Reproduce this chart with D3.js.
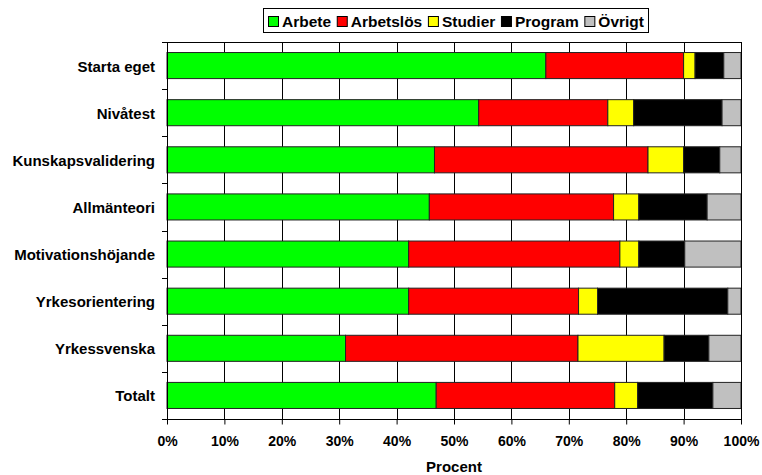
<!DOCTYPE html>
<html>
<head>
<meta charset="utf-8">
<script src="https://cdn.jsdelivr.net/npm/d3@7"></script>
<style>
  body { margin: 0; background: #fff; }
  text { font-family: "Liberation Sans", Arial, sans-serif; font-weight: bold; font-size: 14px; }
</style>
</head>
<body>
<svg width="762" height="475"></svg>
<script>
// categories, top to bottom
var categories = ["Starta eget", "Nivåtest", "Kunskapsvalidering", "Allmänteori",
  "Motivationshöjande", "Yrkesorientering", "Yrkessvenska", "Totalt"];

// series (percent)
var seriesNames = ["Arbete", "Arbetslös", "Studier", "Program", "Övrigt"];
var arbete    = [66.0, 54.3, 46.6, 45.7, 42.1, 42.1, 31.1, 46.9];
var arbetslos = [24.0, 22.5, 37.2, 32.1, 36.8, 29.6, 40.5, 31.1];
var studier   = [ 2.0,  4.5,  6.2,  4.4,  3.3,  3.3, 15.0,  4.0];
var program   = [ 5.0, 15.4,  6.3, 11.9,  8.0, 22.7,  7.8, 13.1];
var ovrigt    = [ 3.0,  3.3,  3.7,  5.9,  9.8,  2.3,  5.6,  4.9];

var xTicks = [0, 10, 20, 30, 40, 50, 60, 70, 80, 90, 100];
var colors = ["#00ff00", "#ff0000", "#ffff00", "#000000", "#c0c0c0"];

var rows = categories.map(function(c, i) {
  return { cat: c, "Arbete": arbete[i], "Arbetslös": arbetslos[i], "Studier": studier[i],
           "Program": program[i], "Övrigt": ovrigt[i] };
});

var svg = d3.select("svg");
var plotLeft = 167, plotRight = 741, plotTop = 42, plotBottom = 419;

var x = d3.scaleLinear().domain([0, 100]).range([plotLeft, plotRight]);
var y = d3.scaleBand().domain(categories).range([plotTop, plotBottom])
  .paddingInner(0.447).paddingOuter(0.2235);
var color = d3.scaleOrdinal().domain(seriesNames).range(colors);

// gridlines
svg.append("g").selectAll("line")
  .data(xTicks)
  .enter().append("line")
  .attr("x1", function(d) { return Math.round(x(d)) + 0.5; })
  .attr("x2", function(d) { return Math.round(x(d)) + 0.5; })
  .attr("y1", plotTop).attr("y2", plotBottom)
  .attr("stroke", "#000").attr("stroke-width", 1);

// stacked bars
var stacked = d3.stack().keys(seriesNames)(rows);
svg.append("g").selectAll("g")
  .data(stacked)
  .enter().append("g")
  .attr("fill", function(d) { return color(d.key); })
  .selectAll("rect")
  .data(function(d) { return d; })
  .enter().append("rect")
  .attr("x", function(d) { return x(d[0]); })
  .attr("width", function(d) { return x(d[1]) - x(d[0]); })
  .attr("y", function(d) { return y(d.data.cat); })
  .attr("height", y.bandwidth())
  .attr("stroke", "#222").attr("stroke-width", 1);

// plot frame
svg.append("rect")
  .attr("x", plotLeft + 0.5).attr("y", plotTop + 0.5)
  .attr("width", plotRight - plotLeft).attr("height", plotBottom - plotTop)
  .attr("fill", "none").attr("stroke", "#000");

// x axis
var xAxis = svg.append("g")
  .attr("transform", "translate(0," + (plotBottom + 0.5) + ")")
  .call(d3.axisBottom(x).tickValues(xTicks).tickSize(5).tickPadding(12)
    .tickFormat(function(d) { return d + "%"; }));
xAxis.select(".domain").remove();
xAxis.selectAll("text").attr("fill", "#000").style("font-size", "14px").style("font-family", null);

// y ticks at band boundaries
var bounds = d3.range(categories.length + 1).map(function(i) {
  return plotTop + i * (plotBottom - plotTop) / categories.length;
});
svg.append("g").selectAll("line")
  .data(bounds)
  .enter().append("line")
  .attr("x1", plotLeft - 5).attr("x2", plotLeft)
  .attr("y1", function(d) { return Math.round(d) + 0.5; })
  .attr("y2", function(d) { return Math.round(d) + 0.5; })
  .attr("stroke", "#000");

// category labels
svg.append("g").selectAll("text")
  .data(categories)
  .enter().append("text")
  .attr("x", 155)
  .attr("y", function(d) { return y(d) + y.bandwidth() / 2; })
  .attr("dy", "0.4em")
  .attr("text-anchor", "end")
  .style("font-size", "15px")
  .text(function(d) { return d; });

// axis title
svg.append("text")
  .attr("x", (plotLeft + plotRight) / 2).attr("y", 472)
  .attr("text-anchor", "middle")
  .style("font-size", "15px")
  .text("Procent");

// legend: spread items so the box spans the same width as the original
var legend = svg.append("g");
var boxL = 263, boxR = 648, boxT = 8, boxH = 24;
var items = legend.selectAll("g")
  .data(seriesNames)
  .enter().append("g");
var texts = items.append("text")
  .attr("y", 26.5)
  .style("font-size", "15.5px")
  .text(function(d) { return d; });
var widths = texts.nodes().map(function(n) { return n.getComputedTextLength(); });
var used = d3.sum(widths) + seriesNames.length * 13;
var gap = ((boxR - 5) - (boxL + 5) - used) / (seriesNames.length - 1);
var pos = boxL + 5;
items.each(function(d, i) {
  var g = d3.select(this);
  g.insert("rect", "text")
    .attr("x", pos + 0.5).attr("y", 16.5)
    .attr("width", 10).attr("height", 10)
    .attr("fill", color(d)).attr("stroke", "#000");
  g.select("text").attr("x", pos + 14);
  pos += 13 + widths[i] + gap;
});
legend.insert("rect", ":first-child")
  .attr("x", boxL + 0.5).attr("y", boxT + 0.5)
  .attr("width", boxR - boxL).attr("height", boxH)
  .attr("fill", "#fff").attr("stroke", "#000");
</script>
</body>
</html>
